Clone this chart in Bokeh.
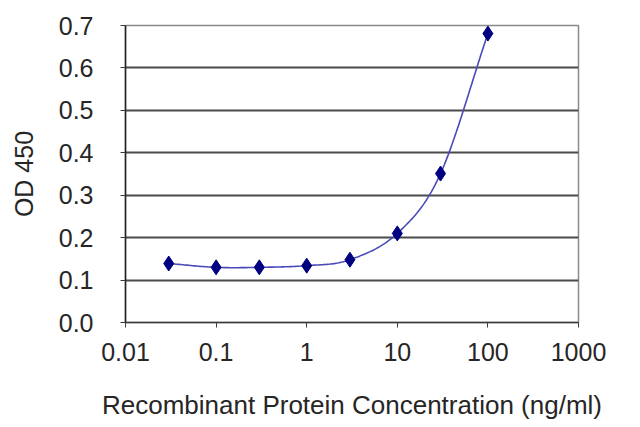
from bokeh.plotting import figure
from bokeh.models import FixedTicker, CustomJSTickFormatter, PrintfTickFormatter, Range1d
from bokeh.embed import file_html
from bokeh.resources import INLINE
import numpy as np

# Data
concentration = [0.03, 0.1, 0.3, 1, 3, 10, 30, 100]
od450 = [0.139, 0.130, 0.130, 0.134, 0.148, 0.210, 0.351, 0.681]
x_ticks = [0.01, 0.1, 1, 10, 100, 1000]
y_ticks = [0.0, 0.1, 0.2, 0.3, 0.4, 0.5, 0.6, 0.7]

FONT = "Liberation Sans"
TXT = "#262626"


def smooth_line(xs, ys, steps=24):
    """Catmull-Rom rendering of the line through the data (log-x space)."""
    lx = np.log10(np.asarray(xs, dtype=float))
    y = np.asarray(ys, dtype=float)
    px = np.concatenate([[2 * lx[0] - lx[1]], lx, [2 * lx[-1] - lx[-2]]])
    py = np.concatenate([[2 * y[0] - y[1]], y, [2 * y[-1] - y[-2]]])
    ox, oy = [], []
    for i in range(1, len(px) - 2):
        t = np.linspace(0, 1, steps, endpoint=False)
        for arr, out in ((px, ox), (py, oy)):
            p0, p1, p2, p3 = arr[i - 1], arr[i], arr[i + 1], arr[i + 2]
            out.extend(0.5 * ((2 * p1) + (-p0 + p2) * t
                              + (2 * p0 - 5 * p1 + 4 * p2 - p3) * t ** 2
                              + (-p0 + 3 * p1 - 3 * p2 + p3) * t ** 3))
    ox.append(lx[-1])
    oy.append(y[-1])
    return list(10 ** np.array(ox)), oy


p = figure(width=632, height=426, x_axis_type="log",
           output_backend="svg", toolbar_location=None,
           min_border_left=125, min_border_right=54,
           min_border_top=25, min_border_bottom=104)
p.x_range = Range1d(0.01, 1000)
p.y_range = Range1d(0.0, 0.7)
p.background_fill_color = "white"
p.border_fill_color = "white"
p.outline_line_color = "#8a8a8a"
p.outline_line_width = 1.5

sx, sy = smooth_line(concentration, od450)
p.line(sx, sy, line_color="#4a4ab8", line_width=1.6)
p.scatter(concentration, od450, marker="diamond", size=15,
          fill_color="#000080", line_color="#000080")

# grid
p.xgrid.visible = False
p.ygrid.ticker = FixedTicker(ticks=y_ticks)
p.ygrid.grid_line_color = "#4a4a4a"
p.ygrid.grid_line_width = 1.8

# x axis
xa = p.xaxis[0]
xa.ticker = FixedTicker(ticks=x_ticks, minor_ticks=[])
xa.formatter = CustomJSTickFormatter(code="return tick.toString();")
xa.axis_label = "Recombinant Protein Concentration (ng/ml)"
xa.axis_line_color = "#3a3a3a"
xa.axis_line_width = 1.5
xa.major_tick_line_color = "#3a3a3a"
xa.major_tick_out = 5
xa.major_tick_in = 0
xa.minor_tick_line_color = None
xa.major_label_standoff = 15
xa.axis_label_standoff = 26
xa.major_label_text_font = FONT
xa.major_label_text_font_size = "25px"
xa.major_label_text_color = TXT
xa.axis_label_text_font = FONT
xa.axis_label_text_font_size = "26px"
xa.axis_label_text_font_style = "normal"
xa.axis_label_text_color = TXT

# y axis
ya = p.yaxis[0]
ya.ticker = FixedTicker(ticks=y_ticks, minor_ticks=[])
ya.formatter = PrintfTickFormatter(format="%.1f")
ya.axis_label = "OD 450"
ya.axis_line_color = "#222222"
ya.axis_line_width = 1.5
ya.major_tick_line_color = "#3a3a3a"
ya.major_tick_out = 5
ya.major_tick_in = 0
ya.minor_tick_line_color = None
ya.major_label_standoff = 27
ya.axis_label_standoff = 18
ya.major_label_text_font = FONT
ya.major_label_text_font_size = "25px"
ya.major_label_text_color = TXT
ya.axis_label_text_font = FONT
ya.axis_label_text_font_size = "25px"
ya.axis_label_text_font_style = "normal"
ya.axis_label_text_color = TXT

open("out.html", "w").write(file_html(p, INLINE))
